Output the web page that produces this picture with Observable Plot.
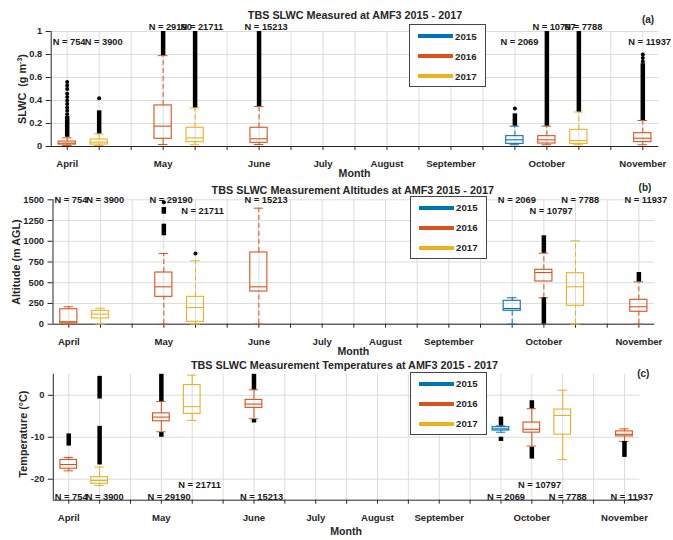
<!DOCTYPE html>
<html><head><meta charset="utf-8">
<script src="https://cdn.jsdelivr.net/npm/d3@7"></script>
<script src="https://cdn.jsdelivr.net/npm/@observablehq/plot@0.6"></script>
<style>
body{margin:0;background:#fff;}
#chart{position:relative;width:673px;height:540px;font-family:"Liberation Sans",Arial,sans-serif;font-weight:bold;color:#262626;overflow:hidden;background:#fff;}
.panel{position:absolute;left:0;}
.panel svg{overflow:visible;}
.lbl{position:absolute;transform:translate(-50%,-50%);white-space:nowrap;line-height:1;}
.ylbl{position:absolute;transform:translate(-50%,-50%) rotate(-90deg);white-space:nowrap;line-height:1;font-size:10.8px;}
.ylbl sup{font-size:7px;vertical-align:4px;line-height:0;}
.title{font-size:10.8px;}
.tag{font-size:10px;}
.xlbl{font-size:10.6px;}
.legend{position:absolute;border:1px solid #444;background:#fff;box-sizing:border-box;width:77px;height:63px;}
.legend .item{position:absolute;left:0;height:20px;width:77px;}
.legend .sw{position:absolute;left:8px;width:35px;height:4px;}
.legend .tx{position:absolute;left:45px;font-size:9.7px;line-height:1;}
</style>
</head><body>
<div id="chart"></div>
<script>
// ---------- data ----------
const slotPositions = [1,2,3,4,5,6,7,8,9,10,11,12,13,14,15,16,17,18,19];
const monthNames = ["April","May","June","July","August","September","October","November"];
const monthTickPos = [1,4,7,9,11,13,16,19];
const boxPos = [1,2,4,5,7,15,16,17,19];
const boxYear = [2016,2017,2016,2017,2016,2015,2016,2017,2016];
const sampleN = [754,3900,29190,21711,15213,2069,10797,7788,11937];
const legendYears = [2015,2016,2017];
const yearColors = ["#0072BD","#D95319","#EDB120"];

// [lower whisker, q1, median, q3, upper whisker]
const slwcStats = [
  [0.009,0.017,0.029,0.043,0.075],
  [0.009,0.017,0.038,0.061,0.11],
  [0.017,0.067,0.177,0.357,0.79],
  [0.015,0.038,0.075,0.163,0.336],
  [0.017,0.032,0.067,0.163,0.348],
  [0.015,0.023,0.058,0.09,0.177],
  [0.015,0.026,0.058,0.09,0.177],
  [0.015,0.023,0.052,0.145,0.30],
  [0.015,0.038,0.072,0.116,0.226]
];
// dense outlier runs [position, from, to]
const slwcOutRuns = [
  [1,0.08,0.26],[2,0.11,0.31],[4,0.79,1],[5,0.336,1],[7,0.348,1],
  [15,0.177,0.284],[16,0.177,1],[17,0.30,1],[19,0.226,0.72]
];
const slwcOutDots = [
  [1,0.28],[1,0.31],[1,0.34],[1,0.37],[1,0.40],[1,0.43],[1,0.46],[1,0.50],[1,0.53],[1,0.56],
  [2,0.42],[15,0.33],[19,0.74],[19,0.77],[19,0.80]
];
const slwcLabelY = [0.905,0.905,1.043,1.043,1.043,0.905,1.043,1.043,0.905];
const slwcTicks = [0,0.2,0.4,0.6,0.8,1];

const altStats = [
  [0,10,30,180,210],
  [0,69,121,161,193],
  [0,330,451,623,853],
  [0,29,201,330,764],
  [0,394,451,865,1399],
  [0,162,189,282,318],
  [318,515,623,656,856],
  [0,222,451,615,1005],
  [0,150,210,294,511]
];
const altOutRuns = [[4,1066,1206],[4,1326,1407],[16,856,1066],[16,0,318],[19,511,623]];
const altOutDots = [[4,1470],[5,853]];
const altLabelY = [1500,1500,1500,1360,1500,1500,1360,1500,1500];
const altTicks = [0,250,500,750,1000,1250,1500];

const tempStats = [
  [-18.0,-17.5,-16.5,-15.4,-14.8],
  [-21.5,-21.1,-20.3,-19.5,-17.1],
  [-8.7,-6.2,-5.2,-4.3,-1.5],
  [-6.0,-4.45,-2.7,2.45,4.8],
  [-5.6,-3.0,-2.1,-1.1,1.3],
  [-8.8,-8.4,-8.0,-7.6,-7.3],
  [-12.1,-8.9,-8.1,-6.5,-3.2],
  [-15.3,-9.4,-4.8,-3.4,1.2],
  [-11.0,-9.8,-9.3,-8.6,-8.0]
];
const tempOutRuns = [
  [1,-12.1,-9.2],[2,-16.6,-7.4],[2,-0.9,4.5],[4,-1.5,5],[4,-10,-8.9],[7,1.3,5],[7,-6.6,-5.8],
  [15,-7.3,-5.2],[15,-11,-10],[16,-3.2,-1.3],[16,-15.2,-12.4],[19,-14.8,-11]
];
const tempOutDots = [];
const tempLabelY = [-24.3,-24.3,-24.3,-21.4,-24.3,-24.3,-21.4,-24.3,-24.3];
const tempTicks = [-20,-10,0];

// ---------- drawing ----------
const FONT = "'Liberation Sans', Arial, sans-serif";
function panel(cfg) {
  const boxes = boxPos.map((p, i) => ({
    pos: p, year: boxYear[i], lo: cfg.stats[i][0], q1: cfg.stats[i][1], med: cfg.stats[i][2],
    q3: cfg.stats[i][3], hi: cfg.stats[i][4], n: sampleN[i], ly: cfg.labelY[i]
  }));
  const xDomain = [0.5, 19.5];
  const hw = 0.27, cw = 0.15;
  const dash = cfg.dashed ? "5,3" : null;
  return Plot.plot({
    width: 673, height: cfg.height,
    marginTop: cfg.mt, marginBottom: cfg.mb, marginLeft: cfg.ml, marginRight: cfg.mr,
    style: {fontFamily: FONT, fontWeight: "bold", fontSize: "9.3px", color: "#262626", background: "transparent", overflow: "visible"},
    x: {domain: xDomain},
    y: {domain: cfg.yDomain},
    color: {type: "ordinal", domain: legendYears, range: yearColors},
    marks: [
      Plot.gridY({ticks: cfg.yTicks, stroke: "#dcdcdc", strokeOpacity: 1}),
      Plot.gridX({ticks: slotPositions, stroke: "#dcdcdc", strokeOpacity: 1}),
      Plot.axisY({ticks: cfg.yTicks, tickFormat: d => String(d), tickSize: 5, tickPadding: 4, label: null, fontSize: "9.3px"}),
      Plot.axisX({ticks: slotPositions, tickFormat: d => { const k = monthTickPos.indexOf(d); return k >= 0 ? monthNames[k] : ""; },
        tickSize: 4, tickPadding: 10, label: null, fontSize: "9.6px"}),
      Plot.ruleY([cfg.yDomain[0]], {stroke: "#262626"}),
      Plot.ruleX([xDomain[0]], {stroke: "#262626"}),
      // whiskers
      Plot.ruleX(boxes, {x: "pos", y1: "q3", y2: "hi", stroke: "year", strokeDasharray: dash}),
      Plot.ruleX(boxes, {x: "pos", y1: "lo", y2: "q1", stroke: "year", strokeDasharray: dash}),
      Plot.ruleY(boxes, {y: "hi", x1: d => d.pos - cw, x2: d => d.pos + cw, stroke: "year"}),
      Plot.ruleY(boxes, {y: "lo", x1: d => d.pos - cw, x2: d => d.pos + cw, stroke: "year"}),
      // outliers
      Plot.ruleX(cfg.runs, {x: d => d[0], y1: d => d[1], y2: d => d[2], stroke: "#000", strokeWidth: 4.5}),
      Plot.dot(cfg.dots, {x: d => d[0], y: d => d[1], r: 2, fill: "#000", stroke: "none"}),
      // boxes
      Plot.rect(boxes, {x1: d => d.pos - hw, x2: d => d.pos + hw, y1: "q1", y2: "q3", stroke: "year", fill: "none", strokeWidth: 1.1}),
      Plot.ruleY(boxes, {y: "med", x1: d => d.pos - hw, x2: d => d.pos + hw, stroke: "year", strokeWidth: 1.1}),
      // counts, left-aligned at the start of each box's slot
      Plot.text(boxes, {x: d => d.pos - 0.5, y: "ly", text: d => `N = ${d.n}`, textAnchor: "start", dx: 1.5,
        fontSize: 9.3, fontWeight: "bold", fill: "#1a1a1a"})
    ]
  });
}

const chart = document.getElementById("chart");
function place(el, top) { const w = document.createElement("div"); w.className = "panel"; w.style.top = top + "px"; w.appendChild(el); chart.appendChild(w); }

place(panel({stats: slwcStats, runs: slwcOutRuns, dots: slwcOutDots, labelY: slwcLabelY, yDomain: [0, 1], yTicks: slwcTicks,
  height: 178, mt: 31, mb: 32, ml: 50.7, mr: 14.7, dashed: true}), 0);
place(panel({stats: altStats, runs: altOutRuns, dots: altOutDots, labelY: altLabelY, yDomain: [0, 1500], yTicks: altTicks,
  height: 178, mt: 21.3, mb: 32.3, ml: 52.5, mr: 18.8, dashed: true}), 178);
place(panel({stats: tempStats, runs: tempOutRuns, dots: tempOutDots, labelY: tempLabelY, yDomain: [-25, 5], yTicks: tempTicks,
  height: 184, mt: 17.8, mb: 40.3, ml: 52.8, mr: 33.6, dashed: false}), 356);

function addText(cls, html, x, y) {
  const d = document.createElement("div"); d.className = cls; d.innerHTML = html;
  d.style.left = x + "px"; d.style.top = y + "px"; chart.appendChild(d);
}
addText("lbl title", "TBS SLWC Measured at AMF3 2015 - 2017", 355, 15);
addText("lbl title", "TBS SLWC Measurement Altitudes at AMF3 2015 - 2017", 352.8, 190);
addText("lbl title", "TBS SLWC Measurement Temperatures at AMF3 2015 - 2017", 344.5, 365);
addText("lbl tag", "(a)", 648, 20);
addText("lbl tag", "(b)", 645, 188.3);
addText("lbl tag", "(c)", 643.3, 374.3);
addText("lbl xlbl", "Month", 354.5, 173);
addText("lbl xlbl", "Month", 353.4, 351);
addText("lbl xlbl", "Month", 346.1, 531);
addText("ylbl", "SLWC &nbsp;(g m<sup>-3</sup>)", 22, 89);
addText("ylbl", "Altitude (m AGL)", 16, 262);
addText("ylbl", "Temperature (°C)", 22.5, 434);

function legend(left, top) {
  const L = document.createElement("div"); L.className = "legend";
  L.style.left = left + "px"; L.style.top = top + "px";
  legendYears.forEach((yr, i) => {
    const it = document.createElement("div"); it.className = "item"; it.style.top = (1.3 + i * 19.9) + "px";
    const sw = document.createElement("div"); sw.className = "sw"; sw.style.background = yearColors[i]; sw.style.top = "8px";
    const tx = document.createElement("div"); tx.className = "tx"; tx.textContent = String(yr); tx.style.top = "5.5px";
    it.appendChild(sw); it.appendChild(tx); L.appendChild(it);
  });
  chart.appendChild(L);
}
legend(409, 24);
legend(410, 195.7);
legend(410, 371.7);
</script>
</body></html>
